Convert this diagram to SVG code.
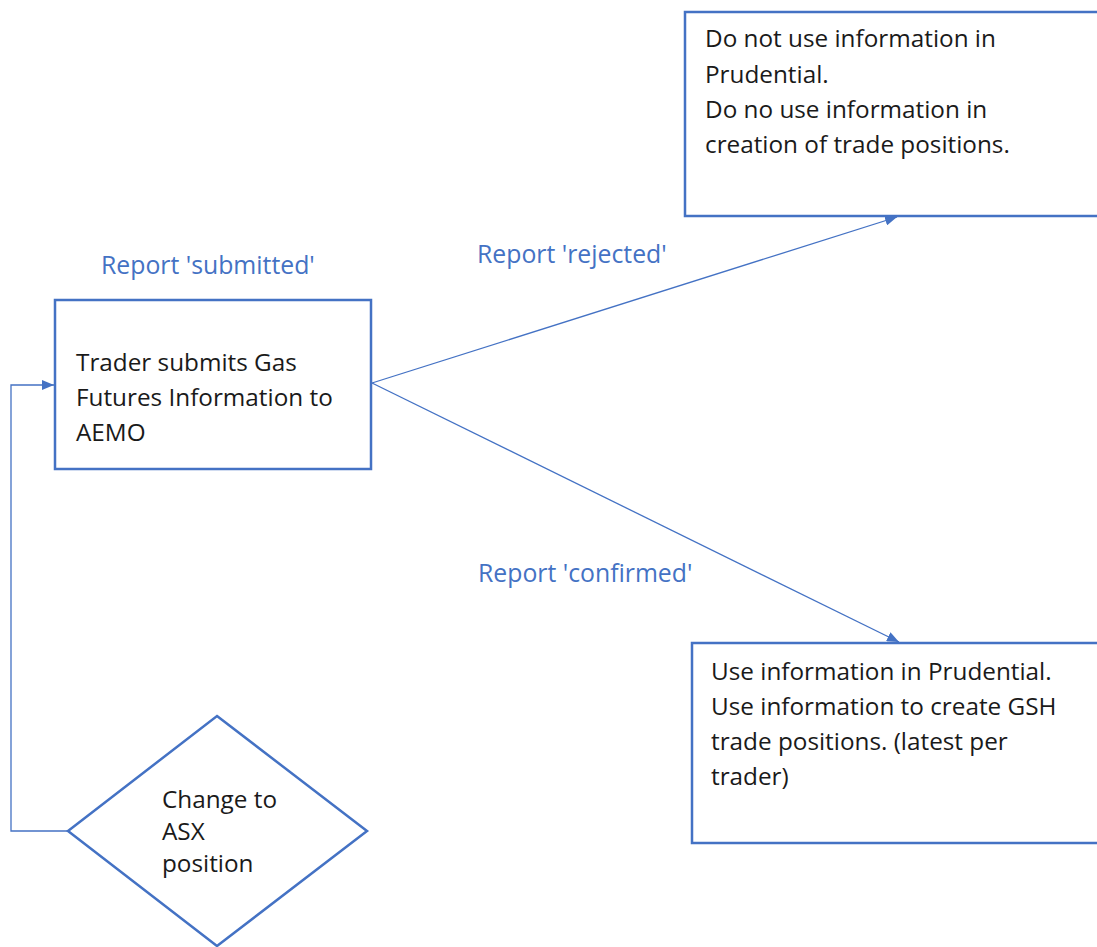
<svg xmlns="http://www.w3.org/2000/svg" width="1097" height="947" viewBox="0 0 1097 947">
<style>
.box{fill:#fff;stroke:#4472C4;stroke-width:2.5}
.t{font-family:"Open Sans","Liberation Sans",sans-serif;font-size:24.3px;fill:#1a1a1a}
.lbl{font-family:"Open Sans","Liberation Sans",sans-serif;font-size:24.8px;fill:#4472C4}
.c{fill:none;stroke:#4472C4;stroke-width:1.3}
</style>
<defs>
<marker id="ah" viewBox="0 0 12 10" refX="12" refY="5" markerWidth="12" markerHeight="10" markerUnits="userSpaceOnUse" orient="auto">
<path d="M0,0 L12,5 L0,10 Z" fill="#4472C4"/>
</marker>
</defs>
<rect width="1097" height="947" fill="#fff"/>
<g id="connectors">
<polyline class="c" points="68,831 11,831 11,385 54,385" marker-end="url(#ah)"/>
<line class="c" x1="372" y1="383" x2="897" y2="217" marker-end="url(#ah)"/>
<line class="c" x1="372" y1="383" x2="899" y2="642" marker-end="url(#ah)"/>
</g>
<g id="label-submitted"><text class="lbl" x="101" y="274">Report 'submitted'</text></g>
<g id="label-rejected"><text class="lbl" x="477" y="263">Report 'rejected'</text></g>
<g id="label-confirmed"><text class="lbl" x="478" y="582">Report 'confirmed'</text></g>
<g id="node-submit">
<rect class="box" x="55" y="300" width="316" height="169"/>
<text class="t" x="76" y="371">Trader submits Gas</text>
<text class="t" x="76" y="406">Futures Information to</text>
<text class="t" x="76" y="441">AEMO</text>
</g>
<g id="node-rejected">
<rect class="box" x="685" y="12" width="430" height="204"/>
<text class="t" x="705" y="47">Do not use information in</text>
<text class="t" x="705" y="83">Prudential.</text>
<text class="t" x="705" y="118">Do no use information in</text>
<text class="t" x="705" y="153">creation of trade positions.</text>
</g>
<g id="node-confirmed">
<rect class="box" x="692" y="643" width="430" height="200"/>
<text class="t" x="711" y="680">Use information in Prudential.</text>
<text class="t" x="711" y="715">Use information to create GSH</text>
<text class="t" x="711" y="750">trade positions. (latest per</text>
<text class="t" x="711" y="785">trader)</text>
</g>
<g id="node-change">
<polygon class="box" points="217,716 367,831 217,946 68,831"/>
<text class="t" x="162" y="808">Change to</text>
<text class="t" x="162" y="840">ASX</text>
<text class="t" x="162" y="872">position</text>
</g>
</svg>
